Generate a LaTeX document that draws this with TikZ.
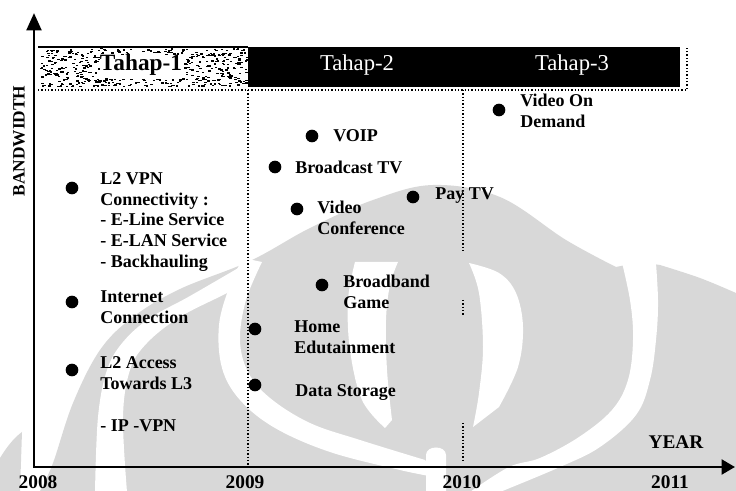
\documentclass[tikz,border=0pt]{standalone}
\usepackage{fontspec}
\setmainfont{Liberation Serif}
\usetikzlibrary{arrows.meta}

\begin{document}
\begin{tikzpicture}[x=0.75pt,y=0.75pt,yscale=-1,xscale=1,
  wmark/.style={fill={rgb, 255:red, 216; green, 216; blue, 216 }},
  cutout/.style={fill=white},
  bullet/.style={circle,fill=black,inner sep=0pt,minimum size=9.5pt},
  item/.style={anchor=west,align=left,inner sep=0pt,font=\fontsize{13.5}{15.5}\selectfont\bfseries},
  yearlbl/.style={inner sep=0pt,font=\fontsize{14.5}{14.5}\selectfont\bfseries},
  guide/.style={line width=0.9pt,dash pattern=on 0.9pt off 1.6pt},
  axis/.style={line width=2.2pt,line join=miter,{Triangle[width=11pt,length=13pt]}-{Triangle[width=11pt,length=10pt]}}]
\useasboundingbox (0,0) rectangle (736,491);

%Watermark
\begin{scope}
\clip (0,0) rectangle (736,491);
%Shape: body
\fill[wmark] plot[smooth,tension=0.6] coordinates {(40,491) (53,463) (73,403) (100,350) (133,317) (180,289) (250,261) (310,228) (373,200) (433,185) (500,197) (566,240) (616,267)} -- (640,262) -- plot[smooth,tension=0.6] coordinates {(660,265) (700,278) (736,293)} -- (736,491) -- cycle;
%Shape: left sliver
\fill[wmark] (0,458) .. controls (8,445) and (15,437) .. (22,432) -- (20,491) -- (0,491) -- cycle;
%Shape: left band
\fill[cutout] plot[smooth,tension=0.6] coordinates {(95,492) (98,417) (107,370) (123,342) (150,318) (190,296) (252,260)} -- plot[smooth,tension=0.6] coordinates {(253,278) (227,293) (180,317) (147,343) (130,370) (123,417) (127,492)} -- cycle;
%Shape: inner band
\fill[cutout] plot[smooth,tension=0.6] coordinates {(243,258) (230,285) (219,325) (222,368) (240,400) (275,428) (330,452) (400,470) (440,478)} -- plot[smooth,tension=0.6] coordinates {(425,460) (360,440) (310,423) (270,398) (248,372) (240,340) (246,300) (262,262)} -- cycle;
%Shape: middle crescent
\fill[cutout] plot[smooth,tension=0.6] coordinates {(355,262) (348,300) (350,350) (362,400) (385,428)} -- plot[smooth,tension=0.6] coordinates {(392,420) (387,370) (386,320) (390,285) (398,262)} -- cycle;
%Shape: centre crescent
\fill[cutout] plot[smooth,tension=0.6] coordinates {(469,263) (479,293) (483,347) (479,393) (473,427)} -- plot[smooth,tension=0.6] coordinates {(499,407) (518,367) (523,327) (516,293) (499,273) (469,263)} -- cycle;
%Shape: right band
\fill[cutout] plot[smooth,tension=0.6] coordinates {(619,250) (630,300) (633,340) (628,380) (612,410) (579,437) (540,458) (509,467) (470,492)} -- plot[smooth,tension=0.6] coordinates {(500,492) (560,467) (600,447) (636,415) (650,380) (656,340) (658,300) (655,250)} -- cycle;
%Shape: tab
\fill[cutout] (426,491) -- (426,455) .. controls (426,445) and (446,445) .. (446,455) -- (446,491) -- cycle;
\end{scope}

%Header
\pgfmathsetseed{12}
\foreach \k in {1,...,600}{
  \pgfmathsetmacro{\sx}{39+207*rnd}
  \pgfmathsetmacro{\sy}{48+38*rnd}
  \pgfmathparse{(\sx>98)&&(\sx<184)&&(\sy>54)&&(\sy<78)}
  \ifnum\pgfmathresult=0
    \fill (\sx,\sy) rectangle ++(2.4,1.3);
  \fi
}
\draw[line width=1pt] (38,47) -- (248,47);
\fill (248,47) rectangle (680,87);
\draw[guide] (38,90) -- (687,90) -- (687,47);
\node[inner sep=0pt,font=\fontsize{17.5}{17.5}\selectfont\bfseries] (tahap1) at (141,65) {Tahap-1};
\node[inner sep=0pt,text=white,font=\fontsize{17}{17}\selectfont] (tahap2) at (357,65) {Tahap-2};
\node[inner sep=0pt,text=white,font=\fontsize{17}{17}\selectfont] (tahap3) at (572,65) {Tahap-3};

%Straight Lines
\draw[guide] (248,90) -- (248,466);
\draw[guide] (463,90) -- (463,253);
\draw[guide] (463,300) -- (463,315);
\draw[guide] (463,423) -- (463,462);

%Axes
\coordinate (ytop) at (34,13);
\coordinate (origin) at (34,467);
\coordinate (xend) at (735,467);
\draw[axis] (ytop) -- (origin) -- (xend);
\node[rotate=90,inner sep=0pt,font=\fontsize{13}{13}\selectfont\bfseries] (bw) at (19,141) {BANDWIDTH};
\node[yearlbl] (year) at (676,442) {YEAR};
\node[yearlbl] (y2008) at (38,482) {2008};
\node[yearlbl] (y2009) at (245,482) {2009};
\node[yearlbl] (y2010) at (462,482) {2010};
\node[yearlbl] (y2011) at (670,482) {2011};

%Tahap-1 services
\node[bullet] (dvpn) at (72,188) {};
\node[item] (tvpn) at (100,222) {L2 VPN\\Connectivity :\\- E-Line Service\\- E-LAN Service\\- Backhauling};
\node[bullet] (dinet) at (72,302) {};
\node[item] (tinet) at (100,307) {Internet\\Connection};
\node[bullet] (dacc) at (72,370) {};
\node[item] (tacc) at (100,373) {L2 Access\\Towards L3};
\node[item] (tipvpn) at (100,426) {- IP -VPN};

%Tahap-2 services
\node[bullet] (dvoip) at (312,136) {};
\node[item] (tvoip) at (333,136) {VOIP};
\node[bullet] (dbtv) at (275,167) {};
\node[item] (tbtv) at (295,167) {Broadcast TV};
\node[bullet] (dvconf) at (297,209) {};
\node[item] (tvconf) at (317,218) {Video\\Conference};
\node[bullet] (dpay) at (413,197) {};
\node[item] (tpay) at (435,196) {Pay TV};
\node[bullet] (dgame) at (322,285) {};
\node[item] (tgame) at (343,292) {Broadband\\Game};
\node[bullet] (dhome) at (255,329) {};
\node[item] (thome) at (294,337) {Home\\Edutainment};
\node[bullet] (dstore) at (255,385) {};
\node[item] (tstore) at (295,393) {Data Storage};

%Tahap-3 services
\node[bullet] (dvod) at (499,110) {};
\node[item] (tvod) at (520,111) {Video On\\Demand};

\end{tikzpicture}
\end{document}
